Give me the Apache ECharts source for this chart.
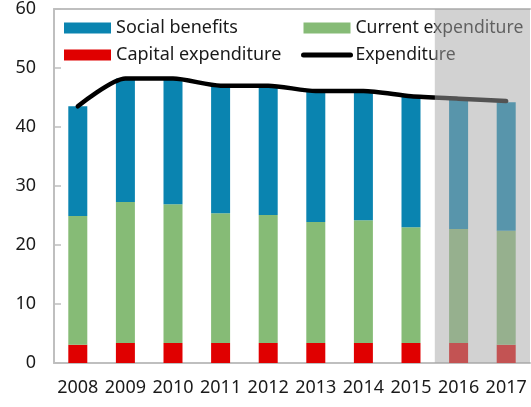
<!DOCTYPE html>
<html lang="en">
<head>
    <meta charset="UTF-8">
    <title></title>
    <script src="https://cdn.jsdelivr.net/npm/echarts@6/dist/echarts.min.js"></script>
    <style>
        html,body{margin:0;padding:0;background:#fff}
        #data{width:531px;height:407px}
    </style>
</head>
<body>
<div id="data"></div>
<script>
// data
var years=["2008","2009","2010","2011","2012","2013","2014","2015","2016","2017"];
var capital=[3.1,3.4,3.4,3.4,3.4,3.4,3.4,3.4,3.4,3.1];
var current=[21.8,23.9,23.5,22.0,21.7,20.5,20.8,19.6,19.3,19.3];
var social=[18.6,20.9,21.3,21.6,21.9,22.2,21.9,22.2,22.0,21.8];
var expenditure=[43.5,48.2,48.2,47.0,47.0,46.1,46.1,45.2,44.8,44.4];
// shaded forecast years, on a two-year axis so it is one block
var yearPairs=["2008-09","2010-11","2012-13","2014-15","2016-17"];
var shade=[null,null,null,null,60];
var yTicks={min:0,max:60,interval:10};

var font="'Noto Sans', sans-serif";
var axisGray="#bfbfbf";

var myChart=echarts.init(document.getElementById('data'));
var option={
    animation:false,
    grid:{left:54,right:1,top:9,bottom:44},
    legend:[{
        left:59,top:14,orient:'vertical',itemGap:9,
        itemWidth:47,itemHeight:11,
        icon:'rect',
        textStyle:{fontFamily:font,fontSize:18,color:'#1a1a1a'},
        data:['Social benefits','Capital expenditure']
    },{
        left:296,top:14,orient:'vertical',itemGap:9,
        itemWidth:47,itemHeight:11,
        textStyle:{fontFamily:font,fontSize:17.6,color:'#1a1a1a'},
        data:[
            {name:'Current expenditure',icon:'rect'},
            {name:'Expenditure',itemStyle:{opacity:0},lineStyle:{width:5,cap:'round'}}
        ]
    }],
    xAxis:[{
        type:'category',data:years,
        axisLine:{lineStyle:{color:axisGray,width:2}},
        axisTick:{inside:true,length:6,lineStyle:{color:axisGray,width:1.5}},
        axisLabel:{fontFamily:font,fontSize:18,color:'#1a1a1a',margin:16,interval:0}
    },{
        type:'category',data:yearPairs,position:'top',
        axisLine:{show:true,lineStyle:{color:axisGray,width:2}},
        axisTick:{show:false},axisLabel:{show:false}
    }],
    yAxis:{
        type:'value',min:yTicks.min,max:yTicks.max,interval:yTicks.interval,
        axisLine:{show:true,lineStyle:{color:axisGray,width:2}},
        axisTick:{show:true,inside:true,length:7,lineStyle:{color:axisGray,width:1.5}},
        splitLine:{show:false},
        axisLabel:{fontFamily:font,fontSize:18,color:'#1a1a1a',margin:18}
    },
    series:[{
        name:'Capital expenditure',type:'bar',stack:'exp',barWidth:19,
        itemStyle:{color:'#e00000'},data:capital
    },{
        name:'Current expenditure',type:'bar',stack:'exp',barWidth:19,
        itemStyle:{color:'#86bb76'},data:current
    },{
        name:'Social benefits',type:'bar',stack:'exp',barWidth:19,
        itemStyle:{color:'#0a84b0'},data:social
    },{
        name:'Expenditure',type:'line',symbol:'none',smooth:0.25,
        lineStyle:{color:'#000',width:4.5,cap:'round'},
        itemStyle:{color:'#000'},
        data:expenditure,z:3
    },{
        name:'shade',type:'bar',xAxisIndex:1,barWidth:'100%',
        itemStyle:{color:'rgba(166,166,166,0.5)'},
        silent:true,data:shade,z:10
    }]
};
myChart.setOption(option,true);
</script>
</body>
</html>
